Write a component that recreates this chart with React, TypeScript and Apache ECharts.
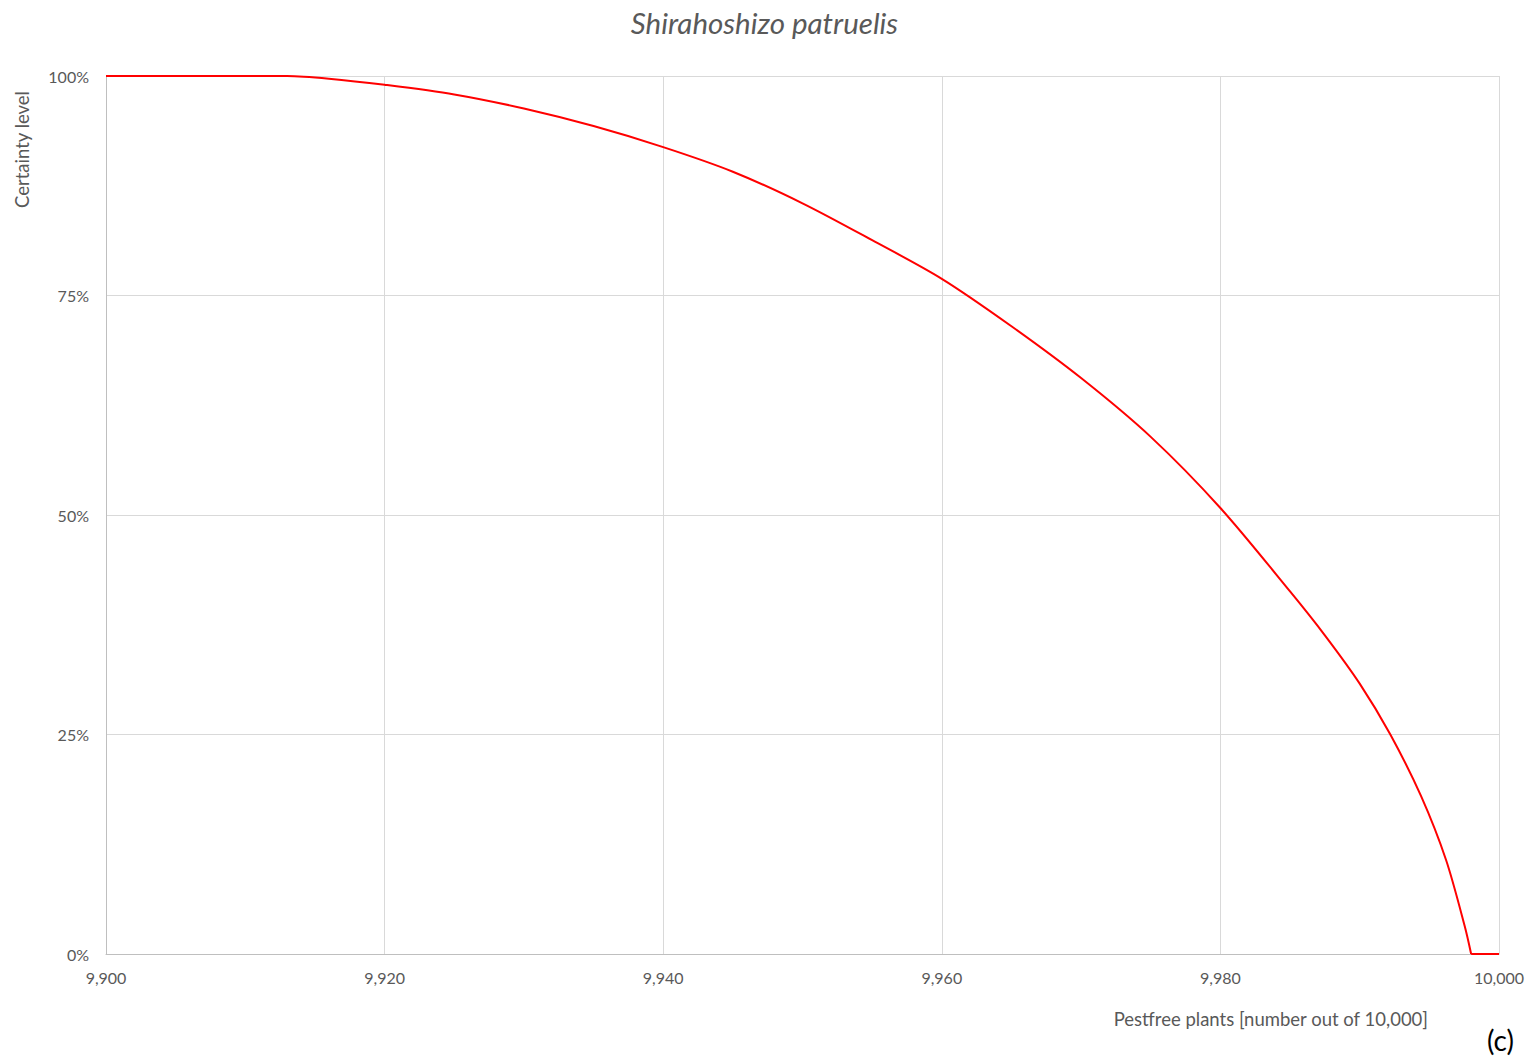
import React, { useEffect, useRef } from "react";
import * as echarts from "echarts";

const pestfree: number[] = [
  9900, 9905, 9910, 9913, 9916, 9920, 9925, 9930, 9935, 9940, 9945, 9950, 9955,
  9960, 9965, 9970, 9975, 9980, 9985, 9987.5, 9990, 9992.2, 9994.4, 9996.2,
  9997.55, 9998,
];
const certainty: number[] = [
  100, 100, 100, 100, 99.7, 99.0, 97.9, 96.3, 94.3, 91.9, 89.1, 85.5, 81.3,
  76.9, 71.5, 65.6, 58.9, 50.8, 41.3, 36.3, 30.8, 25.0, 18.0, 10.7, 3.1, 0,
];
const tailX: number[] = [9998, 10000];
const tailY: number[] = [0, 0];

const xTicks = { min: 9900, max: 10000, interval: 20 };
const yTicks = { min: 0, max: 100, interval: 25 };

const FONT = "Lato, 'Open Sans', sans-serif";
const GREY = "#595959";

export default function App() {
  const ref = useRef<HTMLDivElement>(null);
  useEffect(() => {
    if (!ref.current) return;
    const chart = echarts.init(ref.current, undefined, { renderer: "svg" });
    chart.setOption({
      animation: false,
      backgroundColor: "#ffffff",
      title: {
        text: "Shirahoshizo patruelis",
        left: "center",
        top: 2,
        textStyle: {
          fontFamily: FONT,
          fontStyle: "italic",
          fontWeight: "normal",
          fontSize: 29.5,
          color: GREY,
        },
      },
      grid: { left: 106, right: 30, top: 76, bottom: 102, containLabel: false },
      xAxis: {
        type: "value",
        min: xTicks.min,
        max: xTicks.max,
        interval: xTicks.interval,
        axisLine: { show: true, lineStyle: { color: "#bfbfbf", width: 1 } },
        axisTick: { show: false },
        splitLine: { show: true, lineStyle: { color: "#d9d9d9", width: 1 } },
        axisLabel: {
          color: GREY,
          fontFamily: FONT,
          fontSize: 16,
          margin: 15,
          formatter: (v: number) => v.toLocaleString("en-US"),
        },
      },
      yAxis: {
        type: "value",
        min: yTicks.min,
        max: yTicks.max,
        interval: yTicks.interval,
        axisLine: { show: true, lineStyle: { color: "#bfbfbf", width: 1 } },
        axisTick: { show: false },
        splitLine: { show: true, lineStyle: { color: "#d9d9d9", width: 1 } },
        axisLabel: {
          color: GREY,
          fontFamily: FONT,
          fontSize: 16,
          margin: 17,
          formatter: "{value}%",
        },
      },
      graphic: [
        {
          type: "text",
          x: 22,
          y: 91,
          rotation: Math.PI / 2,
          style: {
            text: "Certainty level",
            fill: GREY,
            font: `18.5px ${FONT}`,
            align: "right",
            verticalAlign: "middle",
          },
        },
        {
          type: "text",
          x: 1428,
          y: 1019,
          style: {
            text: "Pestfree plants [number out of 10,000]",
            fill: GREY,
            font: `18.5px ${FONT}`,
            align: "right",
            verticalAlign: "middle",
          },
        },
        {
          type: "text",
          x: 1514,
          y: 1040,
          style: {
            text: "(c)",
            fill: "#000000",
            font: `28px ${FONT}`,
            align: "right",
            verticalAlign: "middle",
          },
        },
      ],
      series: [
        {
          type: "line",
          data: pestfree.map((x, i) => [x, certainty[i]]),
          smooth: 0.3,
          showSymbol: false,
          lineStyle: { color: "#ff0000", width: 2 },
          itemStyle: { color: "#ff0000" },
        },
        {
          type: "line",
          data: tailX.map((x, i) => [x, tailY[i]]),
          showSymbol: false,
          lineStyle: { color: "#ff0000", width: 2 },
          itemStyle: { color: "#ff0000" },
        },
      ],
    });
    return () => chart.dispose();
  }, []);
  return (
    <div
      ref={ref}
      style={{ position: "absolute", left: 0, top: 0, width: 1529, height: 1056 }}
    />
  );
}
